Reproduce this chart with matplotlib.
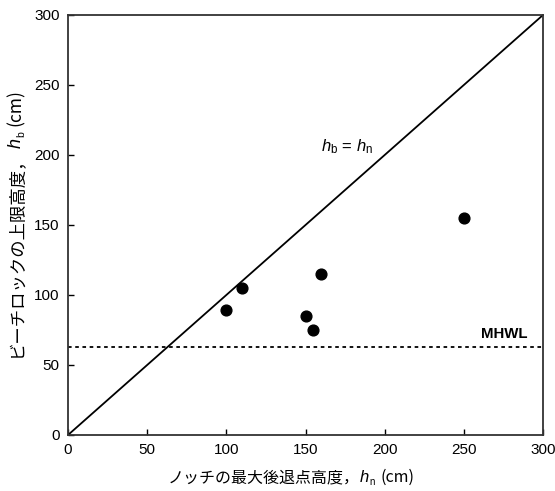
import matplotlib
matplotlib.use("Agg")
import matplotlib.pyplot as plt
from matplotlib.transforms import IdentityTransform

hn = [100, 110, 150, 155, 160, 250]
hb = [89, 105, 85, 75, 115, 155]
mhwl = 63
ticks = [0, 50, 100, 150, 200, 250, 300]
xlabel_parts = ['ノッチの最大後退点高度，', 'h', 'n', '(cm)']
ylabel_parts = ['ビーチロックの上限高度，', 'h', 'b', '(cm)']

fam = ['Liberation Sans', 'Noto Sans CJK JP']
plt.rcParams['font.family'] = fam
plt.rcParams['mathtext.fontset'] = 'custom'
plt.rcParams['mathtext.rm'] = 'Liberation Sans'
plt.rcParams['mathtext.it'] = 'Liberation Sans:italic'

W, H = 555, 491
fig = plt.figure(figsize=(W / 100, H / 100), dpi=100)
ax = fig.add_axes([68 / W, 56 / H, 475 / W, 420 / H])

ax.plot([0, 300], [0, 300], color='black', lw=1.3)
ax.axhline(mhwl, color='black', lw=1.3, ls=(0, (2, 2)))
ax.scatter(hn, hb, s=60, color='black', zorder=3)

ax.set_xlim(0, 300)
ax.set_ylim(0, 300)
ax.set_xticks(ticks)
ax.set_yticks(ticks)
ax.tick_params(direction='in', length=4, width=1, labelsize=11, pad=6)
for s in ax.spines.values():
    s.set_linewidth(1.3)
    s.set_color('#333333')

ax.text(176, 206, r'$h_\mathrm{b}$ = $h_\mathrm{n}$', fontsize=12, ha='center', va='center')
ax.text(290, 67, 'MHWL', fontsize=10.8, fontweight='bold', ha='right', va='bottom')

renderer = fig.canvas.get_renderer()


def compose(parts, cx, cy, fs, vertical=False):
    styles = [
        dict(fontsize=fs, family=['Noto Sans CJK JP']),
        dict(fontsize=fs + 0.5, family=['Liberation Sans'], style='italic'),
        dict(fontsize=fs * 0.6, family=['Liberation Sans']),
        dict(fontsize=fs, family=['Noto Sans CJK JP']),
    ]
    sc = fs / 72 * 100
    shifts = [0, 0, -0.2 * sc, 0]
    gaps = [0, 0.05 * sc, 0.02 * sc, 0.35 * sc]
    widths = []
    for p, st in zip(parts, styles):
        t = fig.text(0, 0, p, transform=IdentityTransform(), **st)
        widths.append(t.get_window_extent(renderer).width)
        t.remove()
    total = sum(widths) + sum(gaps)
    pos = -total / 2
    for p, st, w, sh, g in zip(parts, styles, widths, shifts, gaps):
        pos += g
        if vertical:
            x, y, rot = cx - sh, cy + pos, 90
        else:
            x, y, rot = cx + pos, cy + sh, 0
        fig.text(x, y, p, transform=IdentityTransform(), rotation=rot,
                 rotation_mode='anchor', ha='left', va='baseline', **st)
        pos += w


compose(xlabel_parts, 291, H - 482, 11.5)
compose(ylabel_parts, 21, H - 223, 12.5, vertical=True)

fig.savefig('out.png', dpi=100)
